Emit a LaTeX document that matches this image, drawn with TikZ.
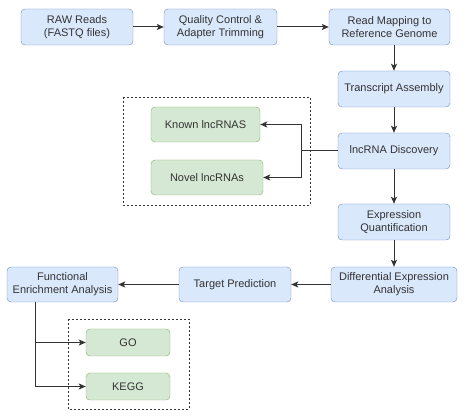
\documentclass[tikz,border=0pt]{standalone}
\usepackage{fontspec}
\setmainfont{Liberation Sans}
\usetikzlibrary{arrows.meta}
\definecolor{stepfill}{HTML}{DAE8FC}
\definecolor{stepline}{HTML}{6C8EBF}
\definecolor{subfill}{HTML}{D5E8D4}
\definecolor{subline}{HTML}{82B366}
\definecolor{ink}{HTML}{333333}
\begin{document}
\begin{tikzpicture}[x=1pt, y=-1pt, >={Stealth[length=7pt,width=6pt,inset=1.5pt]},
  stepbox/.style={draw=stepline, fill=stepfill, rectangle, rounded corners=4pt, minimum height=36pt, align=center, inner sep=1pt, text=ink, font=\fontsize{11}{13}\selectfont},
  subbox/.style={draw=subline, fill=subfill, rectangle, rounded corners=4pt, align=center, inner sep=1pt, text=ink, font=\fontsize{11}{13}\selectfont},
  flow/.style={->, draw=ink, line width=1pt},
  groupbox/.style={draw=ink, dash pattern=on 2pt off 2pt, thick}]
\useasboundingbox (0,0) rectangle (472,419);
% dashed groups
\draw[groupbox] (123,97) rectangle (310,205);
\draw[groupbox] (68,319) rectangle (189,409);
% main pipeline
\node[stepbox, minimum width=112pt] (raw) at (77,27) {RAW Reads\\(FASTQ files)};
\node[stepbox, minimum width=113pt] (qc) at (220.5,27) {Quality Control \&\\Adapter Trimming};
\node[stepbox, minimum width=121pt] (map) at (389.5,27) {Read Mapping to\\Reference Genome};
\node[stepbox, minimum width=112pt] (asm) at (394,89) {Transcript Assembly};
\node[stepbox, minimum width=112pt] (disc) at (394,151) {lncRNA Discovery};
\node[stepbox, minimum width=112pt] (quant) at (394,222) {Expression\\Quantification};
\node[stepbox, minimum width=126pt, minimum height=35pt] (diff) at (394,284.5) {Differential Expression\\Analysis};
\node[stepbox, minimum width=112pt, minimum height=35pt] (target) at (235,284.5) {Target Prediction};
\node[stepbox, minimum width=111pt, minimum height=35pt] (func) at (62.5,284.5) {Functional\\Enrichment Analysis};
% sub results
\node[subbox, minimum width=109pt, minimum height=35pt] (known) at (205.5,124.5) {Known lncRNAS};
\node[subbox, minimum width=112pt, minimum height=35pt] (novel) at (207,177.5) {Novel lncRNAs};
\node[subbox, minimum width=84pt, minimum height=27pt] (go) at (128,342.5) {GO};
\node[subbox, minimum width=84pt, minimum height=27pt] (kegg) at (128,386.5) {KEGG};
% connectors
\draw[flow] (raw) -- (qc);
\draw[flow] (qc) -- (map);
\draw[flow] (asm |- map.south) -- (asm.north);
\draw[flow] (asm) -- (disc);
\draw[flow] (disc) -- (quant);
\draw[flow] (quant) -- (diff);
\draw[flow] (diff) -- (target);
\draw[flow] (target) -- (func);
\coordinate (splitA) at (301,151);
\draw[draw=ink, line width=1pt] (disc.west) -- (splitA);
\draw[flow] (splitA) |- (known.east);
\draw[flow] (splitA) |- (novel.east);
\coordinate (splitB) at (35,302);
\draw[flow] (splitB) |- (go.west);
\draw[flow] (splitB) |- (kegg.west);
\end{tikzpicture}
\end{document}
